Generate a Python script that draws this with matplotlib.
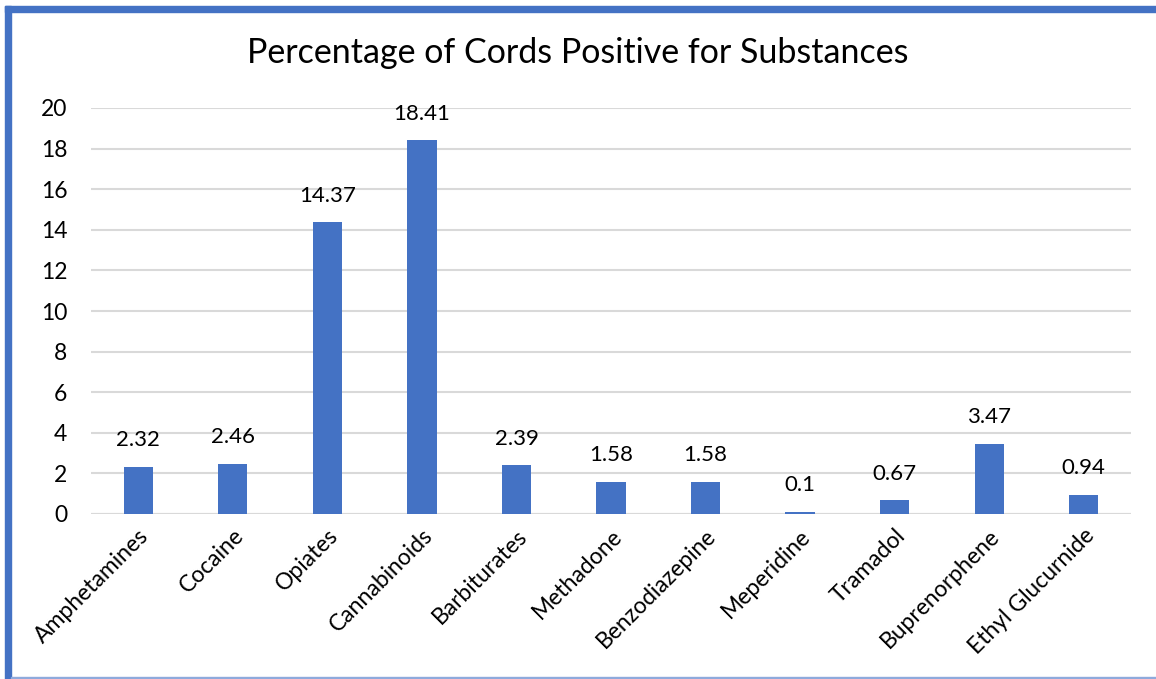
import matplotlib
matplotlib.use("Agg")
import matplotlib.pyplot as plt
from matplotlib.patches import Rectangle

categories = ["Amphetamines", "Cocaine", "Opiates", "Cannabinoids", "Barbiturates",
              "Methadone", "Benzodiazepine", "Meperidine", "Tramadol", "Buprenorphene",
              "Ethyl Glucurnide"]
values = [2.32, 2.46, 14.37, 18.41, 2.39, 1.58, 1.58, 0.1, 0.67, 3.47, 0.94]
value_labels = ["2.32", "2.46", "14.37", "18.41", "2.39", "1.58", "1.58", "0.1", "0.67", "3.47", "0.94"]
yticks = [0, 2, 4, 6, 8, 10, 12, 14, 16, 18, 20]

plt.rcParams['font.family'] = ['Lato', 'DejaVu Sans']

W, H = 1156, 679
fig = plt.figure(figsize=(W/100, H/100), dpi=100)
ax = fig.add_axes([91/W, 1-514/H, (1131-91)/W, (514-108)/H])

x = list(range(len(categories)))
ax.bar(x, values, width=0.31, color="#4472C4", zorder=3)
ax.set_xlim(-0.5, len(categories)-0.5)
ax.set_ylim(0, 20)
ax.set_yticks(yticks)
ax.set_yticklabels([str(t) for t in yticks], fontsize=16.5)
ax.yaxis.grid(True, color="#d9d9d9", linewidth=1.5, zorder=0)
ax.tick_params(axis='y', length=0, pad=17)
ax.tick_params(axis='x', length=0, pad=8)
for s in ax.spines.values():
    s.set_visible(False)
ax.axhline(0, color="#d9d9d9", linewidth=1.5, zorder=2)
ax.set_xticks(x)
ax.set_xticklabels(categories, rotation=45, ha='right', va='top', rotation_mode='anchor', fontsize=16.5)

for xi, v, lab in zip(x, values, value_labels):
    ax.annotate(lab, (xi, v), xytext=(0, 12), textcoords='offset points',
                ha='center', va='bottom', fontsize=16)

fig.text(0.5, 1-53/H, "Percentage of Cords Positive for Substances", ha='center', va='center', fontsize=24.5)

# frame
fig.patches.append(Rectangle((5/W, 0), 6/W, 1-6/H, transform=fig.transFigure, color="#4472C4", zorder=10))
fig.patches.append(Rectangle((5/W, 1-12/H), 1-5/W, 6/H, transform=fig.transFigure, color="#4472C4", zorder=10))
fig.patches.append(Rectangle((11/W, 0), 1-11/W, 2/H, transform=fig.transFigure, color="#8FAADC", zorder=10))

fig.savefig("out.png", dpi=100)
